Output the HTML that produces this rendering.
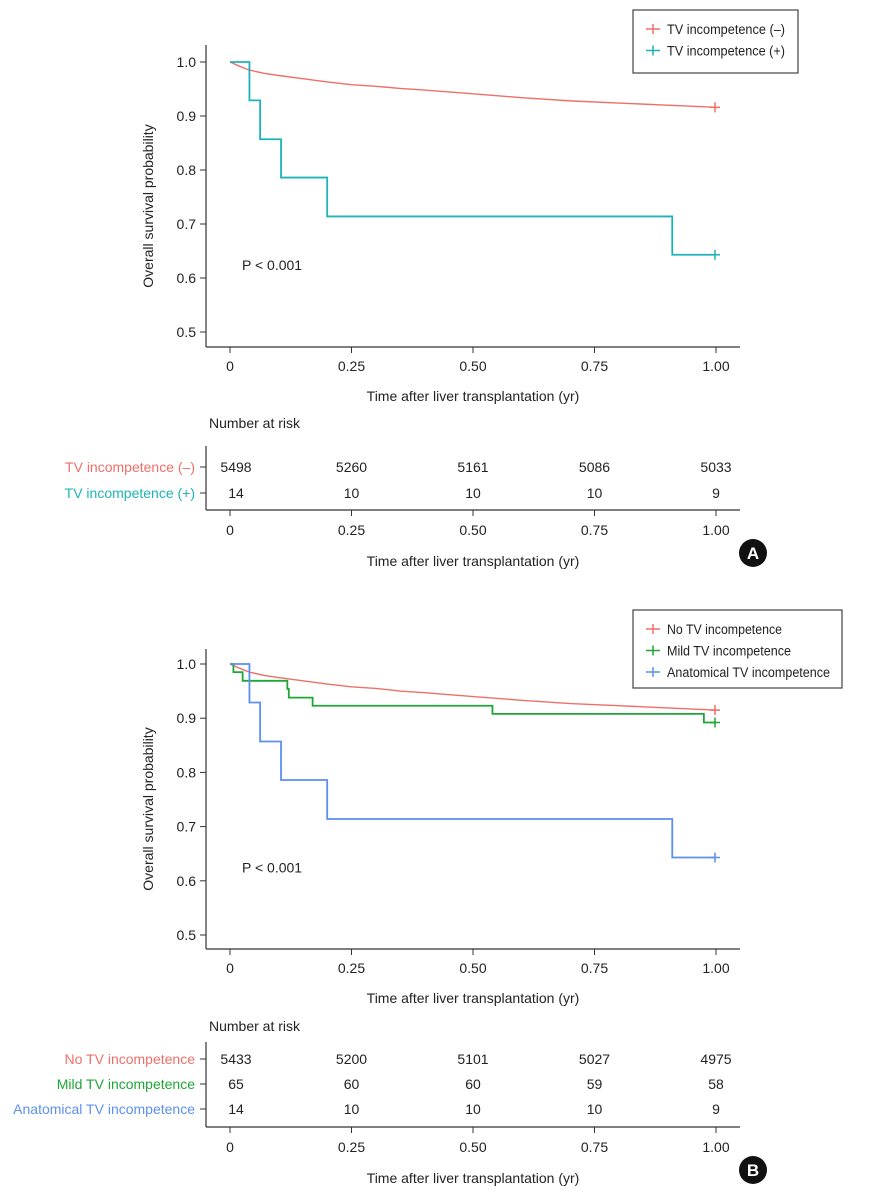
<!DOCTYPE html>
<html><head><meta charset="utf-8"><style>
html,body{margin:0;padding:0;background:#fff;}
svg{display:block;font-family:"Liberation Sans Narrow","Liberation Sans",sans-serif;}
</style></head><body>
<svg id="fig" width="873" height="1200" viewBox="0 0 873 1200" xmlns="http://www.w3.org/2000/svg"></svg>
<script>
// ---- data ----
const xTicks = [0, 0.25, 0.5, 0.75, 1.0];
const xTickLabels = ["0", "0.25", "0.50", "0.75", "1.00"];
const yTicks = [0.5, 0.6, 0.7, 0.8, 0.9, 1.0];
const yTickLabels = ["0.5", "0.6", "0.7", "0.8", "0.9", "1.0"];

// Panel A
const aNegT = [0, 0.02, 0.04, 0.07, 0.1, 0.15, 0.2, 0.25, 0.3, 0.35, 0.4, 0.5, 0.6, 0.7, 0.8, 0.9, 1.0];
const aNegS = [1.0, 0.992, 0.985, 0.979, 0.975, 0.969, 0.963, 0.958, 0.955, 0.951, 0.948, 0.941, 0.934, 0.928, 0.924, 0.920, 0.916];
const aPosT = [0, 0.04, 0.062, 0.105, 0.2, 0.91, 1.0];
const aPosS = [1.0, 0.929, 0.857, 0.786, 0.714, 0.643, 0.643];
const aRiskNeg = [5498, 5260, 5161, 5086, 5033];
const aRiskPos = [14, 10, 10, 10, 9];

// Panel B
const bNoT = [0, 0.02, 0.04, 0.07, 0.1, 0.15, 0.2, 0.25, 0.3, 0.35, 0.4, 0.5, 0.6, 0.7, 0.8, 0.9, 1.0];
const bNoS = [1.0, 0.992, 0.985, 0.979, 0.975, 0.969, 0.963, 0.958, 0.955, 0.950, 0.947, 0.940, 0.933, 0.927, 0.923, 0.919, 0.915];
const bMildT = [0, 0.007, 0.026, 0.118, 0.121, 0.17, 0.54, 0.975, 1.0];
const bMildS = [1.0, 0.985, 0.969, 0.954, 0.938, 0.923, 0.908, 0.892, 0.892];
const bAnaT = [0, 0.04, 0.062, 0.105, 0.2, 0.91, 1.0];
const bAnaS = [1.0, 0.929, 0.857, 0.786, 0.714, 0.643, 0.643];
const bRiskNo = [5433, 5200, 5101, 5027, 4975];
const bRiskMild = [65, 60, 60, 59, 58];
const bRiskAna = [14, 10, 10, 10, 9];

const RED = "#ef6f68", TEAL = "#1cb4b8", GREEN = "#1fa636", BLUE = "#5b8ff0";
const svg = document.getElementById('fig');
const NS = "http://www.w3.org/2000/svg";
function mk(tag, attrs, parent) {
  const e = document.createElementNS(NS, tag);
  for (const k in attrs) e.setAttribute(k, attrs[k]);
  (parent || svg).appendChild(e);
  return e;
}
function txt(x, y, s, attrs, parent) {
  const t = mk('text', Object.assign({x: x, y: y, 'font-size': 14, fill: '#222'}, attrs), parent);
  t.textContent = s;
  return t;
}
const X0 = 230, X1 = 716;
function sx(t) { return X0 + (X1 - X0) * t; }

function panel(cfg) {
  const g = mk('g', {});
  
  
  const yTop = cfg.y1, yBot = cfg.y05;
  function sy(v) { return yBot + (yTop - yBot) * (v - 0.5) / 0.5; }
  const ya = mk('line', {x1: 206, y1: cfg.axTop, x2: 206, y2: cfg.axBot, stroke: '#333', 'stroke-width': 1.2}, g);
  
  
  const xa = mk('line', {x1: 206, y1: cfg.axBot, x2: 740, y2: cfg.axBot, stroke: '#333', 'stroke-width': 1.2}, g);
  
  
  yTicks.forEach((v, i) => {
    mk('line', {x1: 200, y1: sy(v), x2: 206, y2: sy(v), stroke: '#333'}, g);
    const t = txt(196, sy(v) + 5, yTickLabels[i], {'text-anchor': 'end'}, g);
    
    
  });
  xTicks.forEach((v, i) => {
    mk('line', {x1: sx(v), y1: cfg.axBot, x2: sx(v), y2: cfg.axBot + 6, stroke: '#333'}, g);
    const t = txt(sx(v), cfg.axBot + 24, xTickLabels[i], {'text-anchor': 'middle'}, g);
    
    
  });
  const yt = txt(0, 0, 'Overall survival probability', {'text-anchor': 'middle', transform: 'translate(153,' + ((cfg.axTop + cfg.axBot) / 2 + 10) + ') rotate(-90)'}, g);
  
  
  const xt = txt(473, cfg.axBot + 54, 'Time after liver transplantation (yr)', {'text-anchor': 'middle'}, g);
  
  
  const p = txt(242, sy(0.615), 'P < 0.001', {}, g);
  
  
  cfg.series.forEach(s => {
    let d = '';
    for (let i = 0; i < s.t.length; i++) {
      if (i === 0) d += 'M' + sx(s.t[0]) + ',' + sy(s.s[0]);
      else if (s.step) d += 'H' + sx(s.t[i]) + 'V' + sy(s.s[i]);
      else d += 'L' + sx(s.t[i]) + ',' + sy(s.s[i]);
    }
    const path = mk('path', {d: d, fill: 'none', stroke: s.color, 'stroke-width': s.step ? 1.8 : 1.4}, g);
    
    
    const lx = sx(s.t[s.t.length - 1]) - 1, ly = sy(s.s[s.s.length - 1]);
    mk('path', {d: 'M' + (lx - 5) + ',' + ly + 'h10M' + lx + ',' + (ly - 5) + 'v10', stroke: s.color, 'stroke-width': 1.5}, g);
  });
  const L = cfg.legend;
  const lg = mk('g', {}, g);
  
  
  mk('rect', {x: L.x, y: L.y, width: L.w, height: L.h, fill: '#fff', stroke: '#444', 'stroke-width': 1.2}, lg);
  cfg.series.forEach((s, i) => {
    const yy = L.y + 19 + i * 21.5;
    const e = mk('g', {}, lg);
    
    
    mk('path', {d: 'M' + (L.x + 13) + ',' + yy + 'h14M' + (L.x + 20) + ',' + (yy - 5) + 'v10', stroke: s.color, 'stroke-width': 1.5}, e);
    txt(L.x + 34, yy + 5, s.label, {'font-size': 13.5, textLength: s.lw, lengthAdjust: 'spacingAndGlyphs'}, e);
  });
  const R = cfg.risk;
  const rg = mk('g', {}, g);
  
  
  txt(209, R.title, 'Number at risk', {}, rg);
  mk('line', {x1: 206, y1: R.top, x2: 206, y2: R.axis, stroke: '#333', 'stroke-width': 1.2}, rg);
  mk('line', {x1: 206, y1: R.axis, x2: 740, y2: R.axis, stroke: '#333', 'stroke-width': 1.2}, rg);
  cfg.series.forEach((s, i) => {
    const yy = R.rows[i];
    mk('line', {x1: 200, y1: yy, x2: 206, y2: yy, stroke: '#333'}, rg);
    const l = txt(195, yy + 5, s.label, {'text-anchor': 'end', fill: s.color}, rg);
    
    
    s.risk.forEach((n, j) => {
      const t = txt(sx(xTicks[j]) + (j === 0 ? 6 : 0), yy + 5, String(n), {'text-anchor': 'middle'}, rg);
      
      
    });
  });
  xTicks.forEach((v, i) => {
    mk('line', {x1: sx(v), y1: R.axis, x2: sx(v), y2: R.axis + 6, stroke: '#333'}, rg);
    txt(sx(v), R.axis + 25, xTickLabels[i], {'text-anchor': 'middle'}, rg);
  });
  txt(473, R.axis + 56, 'Time after liver transplantation (yr)', {'text-anchor': 'middle'}, rg);
  const b = mk('g', {}, g);
  
  
  mk('circle', {cx: 753, cy: R.axis + 43, r: 14, fill: '#111'}, b);
  txt(753, R.axis + 49, cfg.badge, {'text-anchor': 'middle', fill: '#fff', 'font-size': 17, 'font-weight': 'bold', 'font-family': 'Liberation Sans, sans-serif'}, b);
}

panel({name: 'panel-a', y1: 62, y05: 332, axTop: 45, axBot: 347,
  legend: {x: 633, y: 10, w: 165, h: 63},
  series: [
    {id: 'tv-negative', t: aNegT, s: aNegS, step: false, color: RED, label: 'TV incompetence (–)', risk: aRiskNeg, lw: 118},
    {id: 'tv-positive', t: aPosT, s: aPosS, step: true, color: TEAL, label: 'TV incompetence (+)', risk: aRiskPos, lw: 118}
  ],
  risk: {title: 428, top: 446, axis: 510, rows: [467, 493]}, badge: 'A'});

panel({name: 'panel-b', y1: 664, y05: 935, axTop: 649, axBot: 949,
  legend: {x: 633, y: 610, w: 209, h: 78},
  series: [
    {id: 'no-tv', t: bNoT, s: bNoS, step: false, color: RED, label: 'No TV incompetence', risk: bRiskNo, lw: 115},
    {id: 'mild-tv', t: bMildT, s: bMildS, step: true, color: GREEN, label: 'Mild TV incompetence', risk: bRiskMild, lw: 124},
    {id: 'anatomical-tv', t: bAnaT, s: bAnaS, step: true, color: BLUE, label: 'Anatomical TV incompetence', risk: bRiskAna, lw: 163}
  ],
  risk: {title: 1031, top: 1042, axis: 1127, rows: [1059, 1084, 1109]}, badge: 'B'});
</script>
</body></html>
